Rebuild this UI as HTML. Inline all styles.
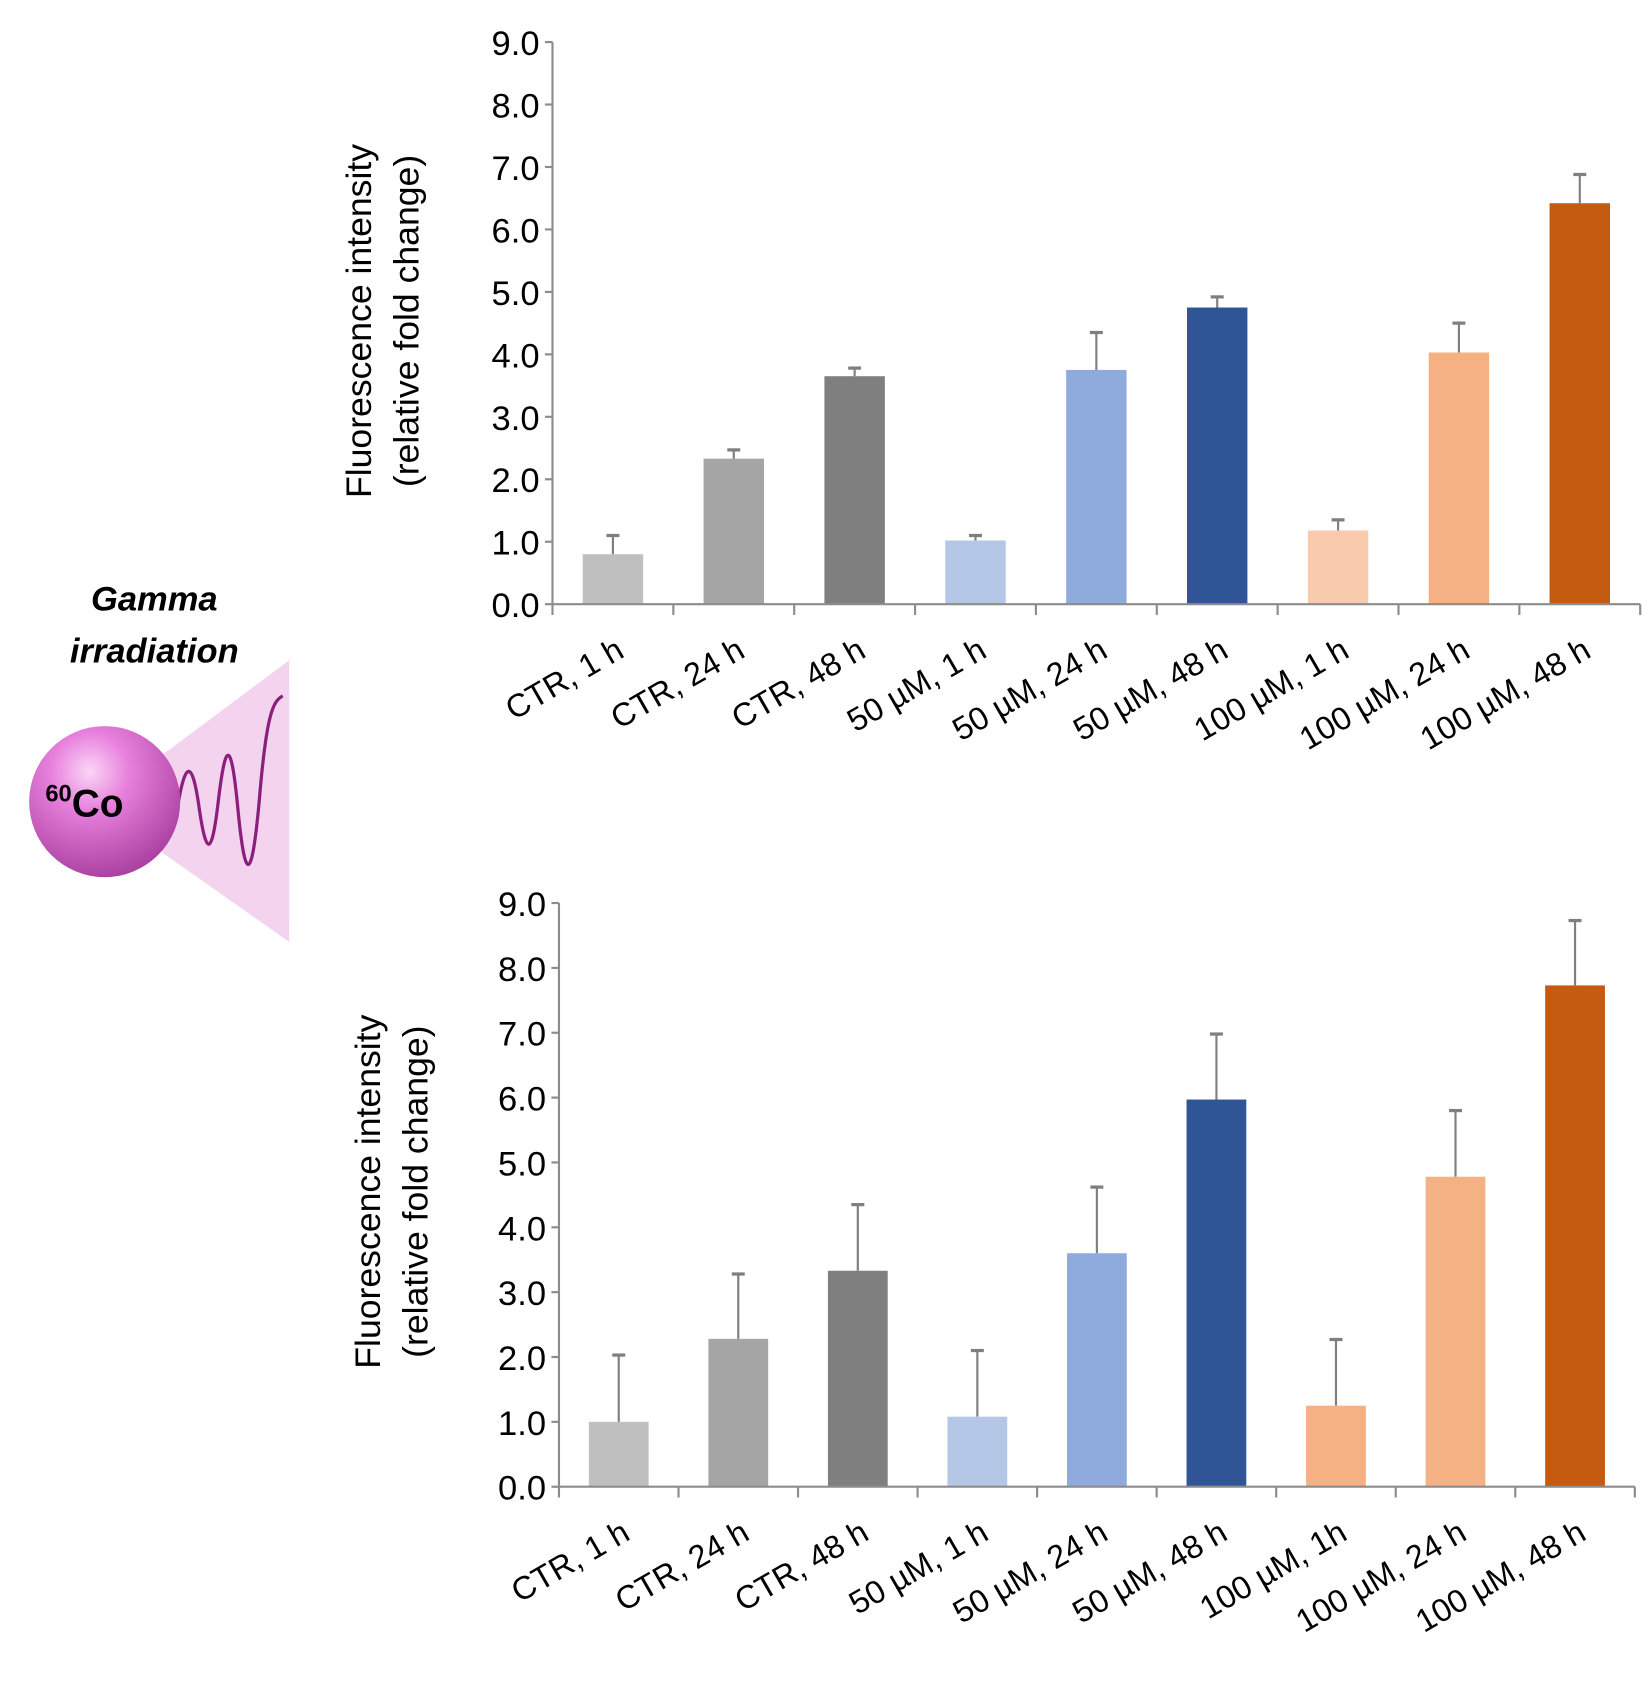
<!DOCTYPE html>
<html><head><meta charset="utf-8"><style>
html,body{margin:0;padding:0;background:#fff}
svg{display:block}
text{font-family:"Liberation Sans",sans-serif}
</style></head><body>
<svg id="fig" width="1651" height="1682" viewBox="0 0 1530 1559" preserveAspectRatio="none" xmlns="http://www.w3.org/2000/svg">
<g>
  <defs>
    <radialGradient id="ball" cx="0.4" cy="0.3" r="0.75">
      <stop offset="0" stop-color="#fbd6f6"/>
      <stop offset="0.35" stop-color="#e77fdc"/>
      <stop offset="1" stop-color="#a63c9c"/>
    </radialGradient>
  </defs>
  <text x="143" y="566" text-anchor="middle" font-size="32" font-weight="bold" font-style="italic">Gamma</text>
  <text x="143" y="614" text-anchor="middle" font-size="32" font-weight="bold" font-style="italic">irradiation</text>
  <polygon points="150,700 268,612 268,873 150,790" fill="#f3d3ee"/>
  <path d="M165,745 C172,705 178,705 184,745 C191,795 196,795 202,745 C209,685 214,685 220,745 C227,820 233,820 240,745 C247,660 253,650 262,645" fill="none" stroke="#8b1f7e" stroke-width="3"/>
  <circle cx="97" cy="743" r="70" fill="url(#ball)"/>
  <text x="42" y="757" font-size="36" font-weight="bold"><tspan font-size="22" dy="-14">60</tspan><tspan dy="14">Co</tspan></text>
</g>
<g id="chart1"></g>
<g id="chart2"></g>
</svg>
<script>
const categories = ["CTR, 1 h","CTR, 24 h","CTR, 48 h","50 µM, 1 h","50 µM, 24 h","50 µM, 48 h","100 µM, 1 h","100 µM, 24 h","100 µM, 48 h"];
const categories2 = ["CTR, 1 h","CTR, 24 h","CTR, 48 h","50 µM, 1 h","50 µM, 24 h","50 µM, 48 h","100 µM, 1h","100 µM, 24 h","100 µM, 48 h"];
const topValues = [0.8,2.33,3.65,1.02,3.75,4.75,1.18,4.03,6.42];
const topErrors = [0.3,0.14,0.13,0.08,0.6,0.17,0.17,0.47,0.46];
const bottomValues = [1.0,2.28,3.33,1.08,3.6,5.97,1.25,4.78,7.73];
const bottomErrors = [1.03,1.0,1.02,1.02,1.02,1.01,1.02,1.02,1.0];
const yTicks = [0,1,2,3,4,5,6,7,8,9];
const colorsTop = ["#bfbfbf","#a5a5a5","#7f7f7f","#b4c7e7","#8faadc","#2f5597","#f8cbad","#f4b183","#c55a11"];
const colorsBottom = ["#bfbfbf","#a5a5a5","#7f7f7f","#b4c7e7","#8faadc","#2f5597","#f4b183","#f4b183","#c55a11"];
const NS="http://www.w3.org/2000/svg";
function mk(parent,tag,attrs,txt){const e=document.createElementNS(NS,tag);for(const k in attrs)e.setAttribute(k,attrs[k]);if(txt!==undefined)e.textContent=txt;parent.appendChild(e);return e;}
function draw(gid,cfg,cats,vals,errs,cols){
  const g=document.getElementById(gid);
  const x0=cfg.x0,x1=cfg.x1,yTop=cfg.yTop,yBot=cfg.yBot;
  const y=v=>yBot-(v/9)*(yBot-yTop);
  const step=(x1-x0)/cats.length;
  const xc=i=>x0+step*(i+0.5);
  yTicks.forEach(t=>{
    const tk=mk(g,'line',{x1:x0-7,x2:x0,y1:y(t),y2:y(t),stroke:'#8c8c8c','stroke-width':2});
    
    
    const tl=mk(g,'text',{x:x0-12,y:y(t)+12,'text-anchor':'end','font-size':32,fill:'#000'},t.toFixed(1));
    
    
  });
  vals.forEach((v,i)=>{
    const bw=step*0.5;
    const top=y(v+errs[i]);
    const el=mk(g,'line',{x1:xc(i),x2:xc(i),y1:y(v),y2:top,stroke:'#7f7f7f','stroke-width':2});
    
    
    const cap=mk(g,'line',{x1:xc(i)-6,x2:xc(i)+6,y1:top,y2:top,stroke:'#7f7f7f','stroke-width':3});
    
    
    const b=mk(g,'rect',{x:xc(i)-bw/2,y:y(v),width:bw,height:yBot-y(v),fill:cols[i]});
    
    
  });
  const ax=mk(g,'line',{x1:x0,x2:x0,y1:yTop,y2:yBot,stroke:'#8c8c8c','stroke-width':2});
  
  
  const xa=mk(g,'line',{x1:x0,x2:x1,y1:yBot,y2:yBot,stroke:'#8c8c8c','stroke-width':2});
  
  
  for(let i=0;i<=cats.length;i++){
    const t=mk(g,'line',{x1:x0+step*i,x2:x0+step*i,y1:yBot,y2:yBot+10,stroke:'#8c8c8c','stroke-width':2});
    
    
  }
  cats.forEach((c,i)=>{
    const tx=xc(i)+12, ty=yBot+48;
    const l=mk(g,'text',{x:tx,y:ty,'text-anchor':'end','font-size':30,transform:`rotate(-30 ${tx} ${ty})`},c);
    
    
  });
  const cy=(yTop+yBot)/2+(cfg.titleDy||0), tx1=cfg.titleX, tx2=cfg.titleX+44;
  const t1=mk(g,'text',{x:tx1,y:cy,'text-anchor':'middle','font-size':33,transform:`rotate(-90 ${tx1} ${cy})`},'Fluorescence intensity');
  
  
  const t2=mk(g,'text',{x:tx2,y:cy,'text-anchor':'middle','font-size':33,transform:`rotate(-90 ${tx2} ${cy})`},'(relative fold change)');
  
  
}
draw('chart1',{x0:512,x1:1520,yTop:39,yBot:560,titleX:344,titleDy:-2},categories,topValues,topErrors,colorsTop);
draw('chart2',{x0:518,x1:1515,yTop:837,yBot:1378,titleX:352,titleDy:-3},categories2,bottomValues,bottomErrors,colorsBottom);
</script>
</body></html>
